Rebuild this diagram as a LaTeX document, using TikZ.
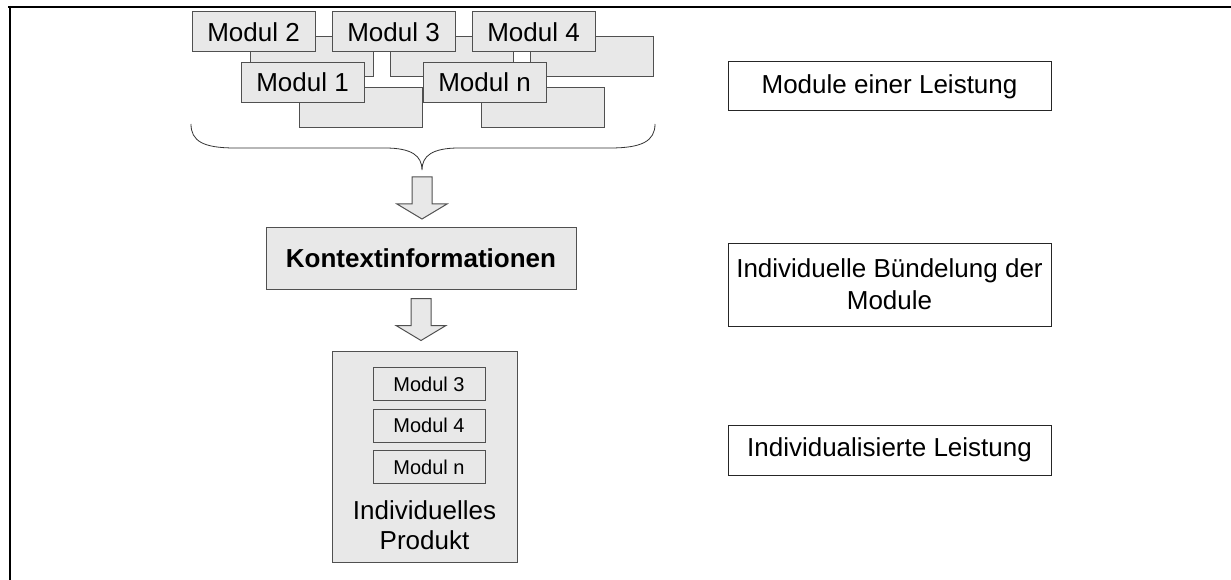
\documentclass[tikz,border=0pt]{standalone}
\usepackage{fontspec}
\setmainfont{Liberation Sans}
\usepackage{xcolor}
\usetikzlibrary{calc,positioning}

\definecolor{fuellgrau}{RGB}{232,232,232}
\definecolor{randgrau}{RGB}{80,80,80}

\tikzset{
  modul/.style={draw=randgrau, fill=fuellgrau, line width=1pt, minimum width=123, minimum height=40, inner sep=0pt, font=\fontsize{26}{30}\selectfont},
  schatten/.style={draw=randgrau, fill=fuellgrau, line width=1pt, minimum width=123, minimum height=40, inner sep=0pt},
  kleinmodul/.style={draw=randgrau, fill=fuellgrau, line width=1pt, minimum width=112, minimum height=33, inner sep=0pt, font=\fontsize{20}{24}\selectfont},
  ebene/.style={draw=black!85, fill=white, line width=1pt, minimum width=323, inner sep=0pt, align=center, font=\fontsize{26}{32}\selectfont},
  blockpfeil/.pic={
    \draw[draw=randgrau, fill=fuellgrau, line width=1pt] (-10,0) -- (10,0) -- (10,27) -- (25,27) -- (0,42) -- (-25,27) -- (-10,27) -- cycle;
  }
}

\begin{document}
\begin{tikzpicture}[x=1pt, y=-1pt]
  \useasboundingbox (0,0) rectangle (1231,580);

  % Rahmen
  \draw[line width=2.2pt] (8,7) -- (1231,7);
  \draw[line width=2.2pt] (10,6) -- (10,580);

  % Module einer Leistung (Schatten zuerst)
  \foreach \n/\x/\y in {2/253.5/32, 3/393.5/32, 4/533.5/32, 1/302.5/82.5, n/484.5/82.5}
    \node[schatten] (s\n) at (\x+58,\y+25) {};
  \foreach \n/\x/\y in {2/253.5/32, 3/393.5/32, 4/533.5/32, 1/302.5/82.5, n/484.5/82.5}
    \node[modul] (m\n) at (\x,\y) {Modul \n};

  % Klammer
  \draw[line width=0.8pt, black!80] (191,124) .. controls (191,141) and (203,148) .. (235,148)
    -- (385,148) .. controls (412,148) and (422,156) .. (422,170) coordinate (spitze)
    .. controls (422,156) and (432,148) .. (459,148)
    -- (610,148) .. controls (642,148) and (655,141) .. (655,124);

  % Kontextinformationen
  \pic at ($(spitze)+(0,7)$) {blockpfeil};
  \node[draw=randgrau, fill=fuellgrau, line width=1pt, minimum width=310, minimum height=62, inner sep=0pt,
        font=\fontsize{26}{30}\selectfont\bfseries] (kontext) at (421,258) {Kontextinformationen};
  \pic at ($(kontext.south)+(0,9)$) {blockpfeil};

  % Individuelles Produkt
  \node[draw=randgrau, fill=fuellgrau, line width=1pt, minimum width=185, minimum height=211, inner sep=0pt] (produkt) at (424.5,456.5) {};
  \foreach \n/\y in {3/384, 4/425.5, n/467}
    \node[kleinmodul] (p\n) at (429,\y) {Modul \n};
  \node[align=center, font=\fontsize{26}{30}\selectfont, inner sep=0pt] (ptext) at (424.5,525) {Individuelles\\Produkt};

  % Ebenen rechts
  \node[ebene, minimum height=49] (e1) at (889.5,86.5) {Module einer Leistung};
  \node[ebene, minimum height=83] (e2) at (889.5,284.5) {Individuelle Bündelung der\\Module};
  \node[ebene, minimum height=50] (e3) at (889.5,450) {Individualisierte Leistung};
\end{tikzpicture}
\end{document}
